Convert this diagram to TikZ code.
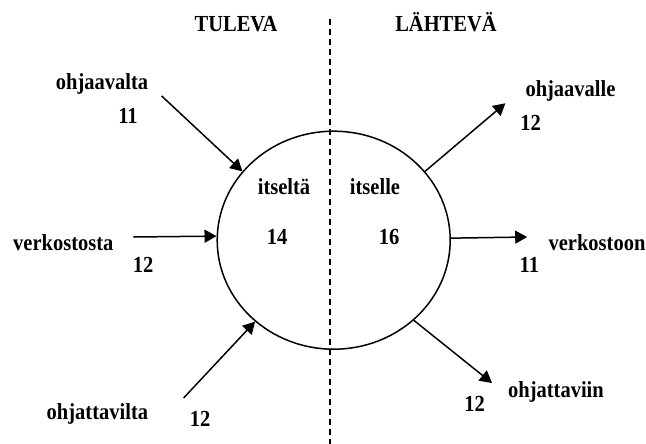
\documentclass[tikz,border=0pt]{standalone}
\usepackage{graphicx}
\usepackage{fontspec}
\setmainfont{Liberation Serif}
\usetikzlibrary{arrows.meta,shapes.geometric}
% labels are set a little taller than the font's natural proportions
\newcommand\talltext[1]{\scalebox{1}[1.12]{#1}}
\begin{document}
\begin{tikzpicture}[x=1pt,y=-1pt,
  lbl/.style={inner sep=0pt,anchor=base,font=\fontsize{20.5}{24}\selectfont\bfseries},
  arr/.style={line width=1.5pt,-{Triangle[length=12pt,width=13pt]}},
  divider/.style={line width=1.3pt,dash pattern=on 6pt off 4pt},
  hub/.style={ellipse,draw,line width=1.5pt,minimum width=233pt,minimum height=218pt,inner sep=0pt}]
\useasboundingbox (0,0) rectangle (646,444);

% vertical divider between incoming and outgoing
\coordinate (dtop) at (330,19);
\coordinate (dbot) at (330,444);
\draw[divider] (dtop) -- (dbot);

% central circle
\node[hub] (c) at (333.7,240.2) {};

% column headings
\node[lbl] (tul) at (236,32) {\talltext{TULEVA}};
\node[lbl] (lah) at (446,32) {\talltext{LÄHTEVÄ}};

% labels inside the circle
\node[lbl] (itselta) at (284,194) {\talltext{itseltä}};
\node[lbl] (itselle) at (375,194) {\talltext{itselle}};
\node[lbl] (n14) at (277,244) {\talltext{14}};
\node[lbl] (n16) at (389,244) {\talltext{16}};

% incoming labels
\node[lbl] (ohjaavalta) at (102,89.5) {\talltext{ohjaavalta}};
\node[lbl] (n11a) at (128,124) {\talltext{11}};
\node[lbl] (verkostosta) at (63.3,250) {\talltext{verkostosta}};
\node[lbl] (n12a) at (143,272.7) {\talltext{12}};
\node[lbl] (ohjattavilta) at (97.4,419) {\talltext{ohjattavilta}};
\node[lbl] (n12b) at (200,426) {\talltext{12}};

% outgoing labels
\node[lbl] (ohjaavalle) at (570.5,96.7) {\talltext{ohjaavalle}};
\node[lbl] (n12c) at (530.5,130.7) {\talltext{12}};
\node[lbl] (verkostoon) at (597,250) {\talltext{verkostoon}};
\node[lbl] (n11b) at (529.4,272.7) {\talltext{11}};
\node[lbl] (ohjattaviin) at (556,397.3) {\talltext{ohjattaviin}};
\node[lbl] (n12d) at (474.5,411.7) {\talltext{12}};

% free ends of the connectors
\coordinate (inA) at (161.7,96);
\coordinate (inB) at (133.3,237);
\coordinate (inC) at (183.6,398);
\coordinate (outA) at (505.4,103.3);
\coordinate (outB) at (527.2,237);
\coordinate (outC) at (492,383);

% connectors
\draw[arr] (inA) -- (c.143);
\draw[arr] (inB) -- (c.178.4);
\draw[arr] (inC) -- (c.-134);
\draw[arr] (c.37) -- (outA);
\draw[arr] (c.1.6) -- (outB);
\draw[arr] (c.-45) -- (outC);
\end{tikzpicture}
\end{document}
